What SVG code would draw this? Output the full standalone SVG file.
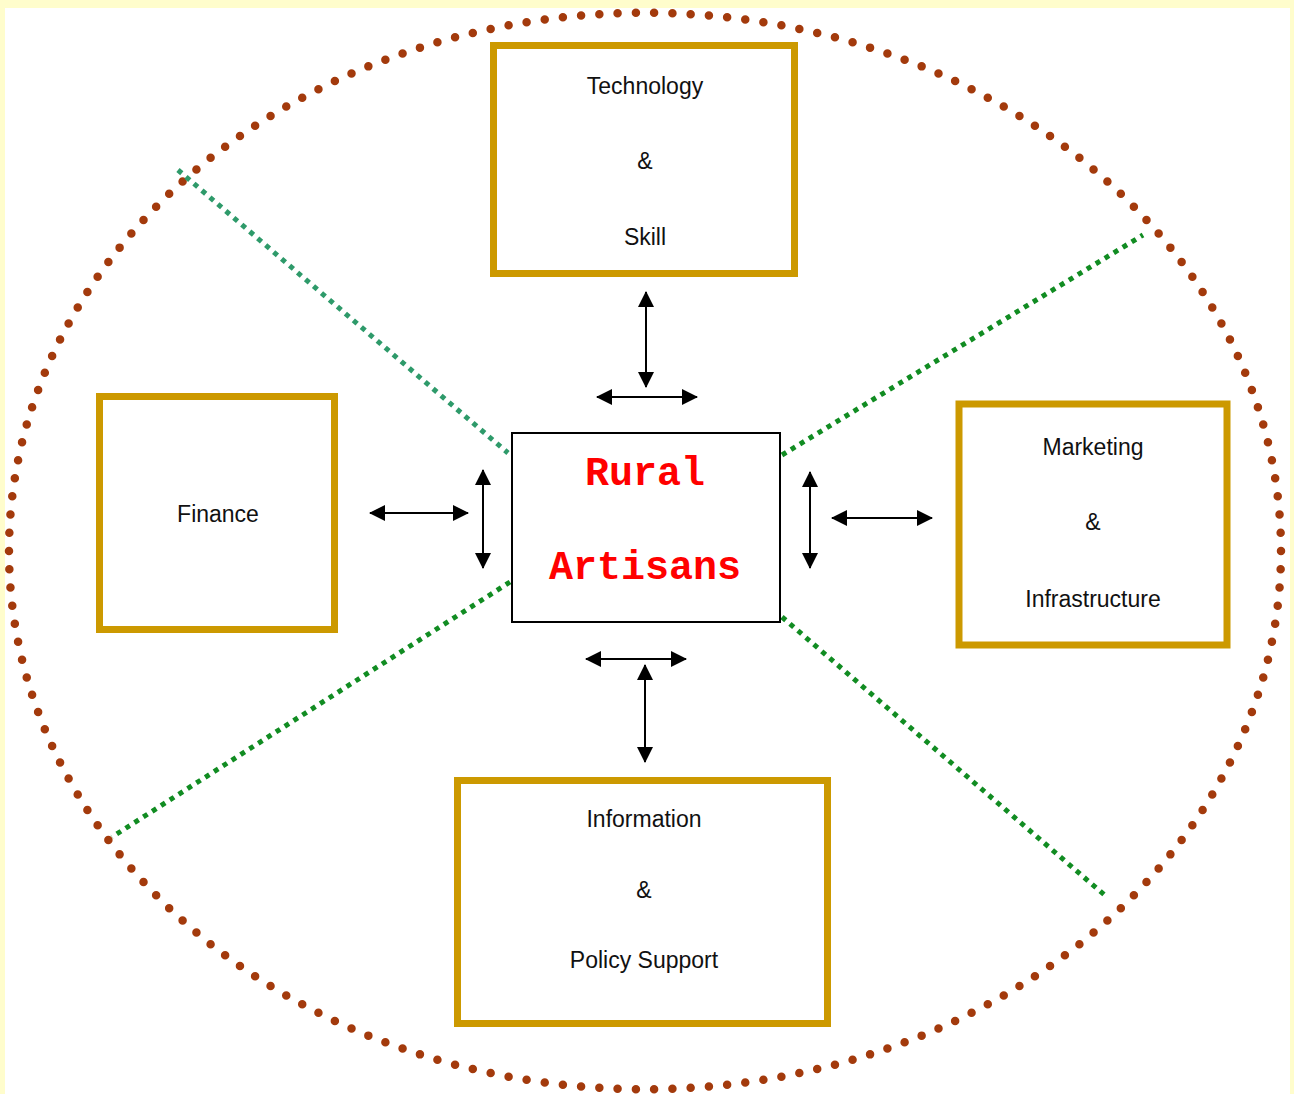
<svg xmlns="http://www.w3.org/2000/svg" width="1294" height="1094" viewBox="0 0 1294 1094">
<defs>
<style>
.box{fill:#fff;stroke:#CC9900;stroke-width:7}
.lbl{font-family:"Liberation Sans",Arial,sans-serif;font-size:23px;fill:#111;text-anchor:middle}
.core{font-family:"Liberation Mono","Courier New",monospace;font-size:40px;font-weight:bold;fill:#FF0000;text-anchor:middle}
.arr{stroke:#000;stroke-width:2;fill:none;marker-start:url(#ah);marker-end:url(#ah)}
.grn{stroke:#118C22;stroke-width:5;stroke-dasharray:5 5.5;fill:none}
</style>
<marker id="ah" viewBox="0 0 16 16" refX="15" refY="8" markerWidth="16" markerHeight="16" markerUnits="userSpaceOnUse" orient="auto-start-reverse">
<path d="M0,0 L16,8 L0,16 Z" fill="#000"/>
</marker>
</defs>
<rect x="0" y="0" width="1294" height="1094" fill="#FFFDCC"/>
<rect x="5" y="8" width="1285" height="1086" fill="#FFFFFF"/>
<path id="ring" d="M9,551 A636,538 0 1,1 1281,551 A636,538 0 1,1 9,551 Z" pathLength="202" fill="none" stroke="#A33A0C" stroke-width="8.5" stroke-linecap="round" stroke-dasharray="0 1"/>
<g id="connectors">
<line class="grn" x1="178" y1="170" x2="508" y2="453" style="stroke:#2E9A6A"/>
<line class="grn" x1="782" y1="455" x2="1143" y2="235"/>
<line class="grn" x1="510" y1="582" x2="112" y2="837"/>
<line class="grn" x1="782" y1="617" x2="1108" y2="898"/>
<line class="arr" x1="646" y1="292" x2="646" y2="387"/>
<line class="arr" x1="597" y1="397" x2="697" y2="397"/>
<line class="arr" x1="370" y1="513" x2="468" y2="513"/>
<line class="arr" x1="483" y1="470" x2="483" y2="568"/>
<line class="arr" x1="810" y1="472" x2="810" y2="568"/>
<line class="arr" x1="832" y1="518" x2="932" y2="518"/>
<line class="arr" x1="586" y1="659" x2="686" y2="659"/>
<line class="arr" x1="645" y1="665" x2="645" y2="762"/>
</g>
<g id="center">
<rect x="512" y="433" width="268" height="189" fill="#fff" stroke="#000" stroke-width="2"/>
<text class="core" x="645" y="485">Rural</text>
<text class="core" x="645" y="579">Artisans</text>
</g>
<g id="technology">
<rect class="box" x="493.5" y="45.5" width="301" height="228"/>
<text class="lbl" x="645" y="94">Technology</text>
<text class="lbl" x="645" y="169">&amp;</text>
<text class="lbl" x="645" y="245">Skill</text>
</g>
<g id="finance">
<rect class="box" x="99.5" y="396.5" width="235" height="233"/>
<text class="lbl" x="218" y="522">Finance</text>
</g>
<g id="marketing">
<rect class="box" x="959" y="404" width="268" height="241"/>
<text class="lbl" x="1093" y="455">Marketing</text>
<text class="lbl" x="1093" y="530">&amp;</text>
<text class="lbl" x="1093" y="607">Infrastructure</text>
</g>
<g id="information">
<rect class="box" x="457.5" y="780.5" width="370" height="243"/>
<text class="lbl" x="644" y="827">Information</text>
<text class="lbl" x="644" y="898">&amp;</text>
<text class="lbl" x="644" y="968">Policy Support</text>
</g>
</svg>
